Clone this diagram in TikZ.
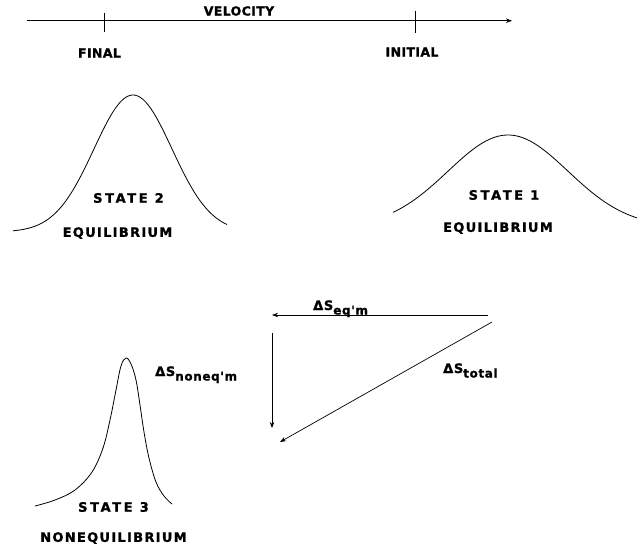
\documentclass[tikz,border=0pt]{standalone}
\usepackage{fontspec}
\usepackage{tikz}
\usetikzlibrary{arrows.meta, calc}
\newfontfamily\axisfont{DejaVu Sans Bold}[LetterSpace=3,FakeBold=1.2]
\newfontfamily\statefont{DejaVu Sans Bold}[LetterSpace=20,FakeBold=1.2]
\newfontfamily\eqmfont{DejaVu Sans Bold}[LetterSpace=10,FakeBold=1.2]
\newfontfamily\dsfont{DejaVu Sans Bold}[LetterSpace=5,FakeBold=1.2]
\newcommand{\delS}[1]{ΔS\raisebox{-4.5pt}{\fontsize{12}{12}\selectfont #1}}

\begin{document}
\begin{tikzpicture}[
    x=1pt, y=-1pt,
    axislbl/.style={font=\axisfont\fontsize{12.5}{13}\selectfont,inner sep=0pt},
    statelbl/.style={font=\statefont\fontsize{13}{14}\selectfont,inner sep=0pt},
    eqmlbl/.style={font=\eqmfont\fontsize{13}{14}\selectfont,inner sep=0pt},
    dslbl/.style={font=\dsfont\fontsize{13}{14}\selectfont,inner sep=0pt,anchor=base west},
    arr/.style={-{Stealth[length=6pt,width=4.5pt]},line width=0.7pt},
    curve/.style={line width=0.8pt}
]
  \useasboundingbox (0,0) rectangle (642,547);

  % Velocity axis
  \coordinate (vleft) at (27,20.7);
  \coordinate (vright) at (512,20.7);
  \coordinate (tfinal) at (104,20.7);
  \coordinate (tinit) at (415,20.7);
  \draw[arr,line width=0.9pt] (vleft) -- (vright);
  \draw[line width=0.8pt] ($(tfinal)+(0,-8)$) -- ($(tfinal)+(0,11)$);
  \draw[line width=0.8pt] ($(tinit)+(0,-10)$) -- ($(tinit)+(0,12)$);
  \node[axislbl] (vel) at (239,11) {VELOCITY};
  \node[axislbl] (final) at (99.5,53) {FINAL};
  \node[axislbl] (initial) at (412,52) {INITIAL};

  % State 2 (final, equilibrium)
  \draw[curve,domain=13:227,samples=80]
    plot (\x, {232-137*exp(-0.5*((\x-133)/39)^2)});
  \node[statelbl] (st2) at (128.5,198) {STATE 2};
  \node[eqmlbl] (eq2) at (117.5,233) {EQUILIBRIUM};

  % State 1 (initial, equilibrium)
  \draw[curve,domain=393:637,samples=80]
    plot (\x, {227-92*exp(-0.5*((\x-508)/60)^2)});
  \node[statelbl] (st1) at (504,195) {STATE 1};
  \node[eqmlbl] (eq1) at (498,228) {EQUILIBRIUM};

  % State 3 (nonequilibrium)
  \draw[curve] plot[smooth,tension=0.6] coordinates {
    (35,506) (55,500) (75,490) (92,472) (103,448) (110,420) (116,390)
    (121,366) (126,358) (131,364) (136,380) (140,405) (144,432)
    (149,458) (156,482) (164,496) (172,504)};
  \node[statelbl] (st3) at (113.5,507) {STATE 3};
  \node[eqmlbl] (neq3) at (113.5,538) {NONEQUILIBRIUM};

  % Entropy changes
  \coordinate (eqR) at (488,315);
  \coordinate (eqL) at (272,315);
  \coordinate (neqT) at (272,333);
  \coordinate (neqB) at (272,428);
  \coordinate (totT) at (492,322);
  \coordinate (totB) at (280,442);
  \draw[arr] (eqR) -- (eqL);
  \draw[arr] (neqT) -- (neqB);
  \draw[arr] (totT) -- (totB);
  \node[dslbl] (dseq) at (313,310) {\delS{eq'm}};
  \node[dslbl] (dsneq) at (155,376) {\delS{noneq'm}};
  \node[dslbl] (dstot) at (443,373) {\delS{total}};
\end{tikzpicture}
\end{document}
